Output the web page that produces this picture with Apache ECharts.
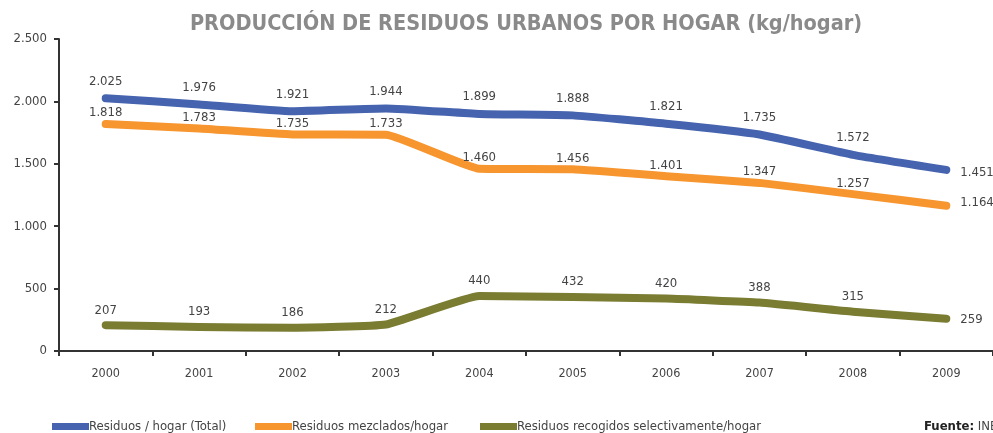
<!DOCTYPE html>
<html>
<head>
<meta charset="utf-8">
<script src="https://cdn.jsdelivr.net/npm/echarts@6/dist/echarts.min.js"></script>
<style>
  html, body { margin: 0; padding: 0; background: #fff; }
  #chart { width: 993px; height: 433px; }
</style>
</head>
<body>
<div id="chart"></div>
<script>
// datos
var years = ["2000", "2001", "2002", "2003", "2004", "2005", "2006", "2007", "2008", "2009"];
var total = [2025, 1976, 1921, 1944, 1899, 1888, 1821, 1735, 1572, 1451];
var mezclados = [1818, 1783, 1735, 1733, 1460, 1456, 1401, 1347, 1257, 1164];
var selectivos = [207, 193, 186, 212, 440, 432, 420, 388, 315, 259];
var yTicks = [0, 500, 1000, 1500, 2000, 2500];

var names = [
  "Residuos / hogar (Total)",
  "Residuos mezclados/hogar",
  "Residuos recogidos selectivamente/hogar"
];
var colors = ["#4563ae", "#f7952f", "#7a7c32"];
var font = "'Liberation Sans Narrow', 'DejaVu Sans Condensed', 'Roboto', sans-serif";

function fmt(v) {
  return String(v).replace(/\B(?=(\d{3})+(?!\d))/g, ".");
}

var chart = echarts.init(document.getElementById("chart"));

function makeSeries(i, data, dist) {
  return {
    name: names[i],
    type: "line",
    data: data,
    symbol: "circle",
    symbolSize: 1,
    showSymbol: true,
    smooth: 0.12,
    lineStyle: { width: 8, color: colors[i], cap: "round", join: "round" },
    itemStyle: { color: "rgba(0,0,0,0)", borderWidth: 0 },
    label: {
      show: true,
      position: "top",
      distance: dist,
      color: "#444",
      fontSize: 13,
      fontFamily: font,
      formatter: function (p) {
        return fmt(p.value);
      }
    },
    labelLayout: function (p) {
      // el último valor va a la derecha del punto
      if (p.dataIndex === data.length - 1) {
        return {
          x: p.rect.x + p.rect.width / 2 + 14,
          y: p.rect.y + p.rect.height + dist - 8,
          align: "left",
          verticalAlign: "middle"
        };
      }
    }
  };
}

function legendItem(i, left) {
  return {
    data: [{ name: names[i], itemStyle: { color: colors[i] } }],
    left: left,
    bottom: 0,
    itemWidth: 37,
    itemHeight: 7,
    itemGap: 0,
    padding: 0,
    icon: "rect",
    textStyle: { color: "#444", fontSize: 13, fontFamily: font, padding: [0, 0, 0, -5] }
  };
}

var option = {
  animation: false,
  title: {
    text: "PRODUCCIÓN DE RESIDUOS URBANOS POR HOGAR (kg/hogar)",
    left: 521,
    textAlign: "center",
    top: 8,
    textStyle: { color: "#8a8a8a", fontSize: 21.5, fontWeight: "bold", fontFamily: font }
  },
  legend: [legendItem(0, 52), legendItem(1, 255), legendItem(2, 480)],
  grid: { left: 59, right: 0, top: 39, bottom: 82 },
  xAxis: {
    type: "category",
    data: years,
    boundaryGap: true,
    axisLine: { lineStyle: { color: "#333", width: 2 } },
    axisTick: { show: true, length: 5, inside: false, lineStyle: { color: "#333", width: 2 } },
    axisLabel: { color: "#444", fontSize: 12.5, fontFamily: font, margin: 16 }
  },
  yAxis: {
    type: "value",
    min: yTicks[0],
    max: yTicks[yTicks.length - 1],
    interval: 500,
    axisLine: { show: true, lineStyle: { color: "#333", width: 2 } },
    axisTick: { show: true, length: 5, lineStyle: { color: "#333", width: 2 } },
    splitLine: { show: false },
    axisLabel: { color: "#444", fontSize: 13, fontFamily: font, margin: 12, formatter: fmt }
  },
  graphic: [
    {
      type: "text",
      left: 924,
      bottom: 0,
      style: {
        text: "{b|Fuente:} INE",
        rich: { b: { fontWeight: "bold", fontSize: 13, fontFamily: font, fill: "#222" } },
        fontSize: 13,
        fontFamily: font,
        fill: "#444"
      }
    }
  ],
  series: [
    makeSeries(0, total, 10),
    makeSeries(1, mezclados, 4),
    makeSeries(2, selectivos, 8)
  ]
};

chart.setOption(option);
</script>
</body>
</html>
